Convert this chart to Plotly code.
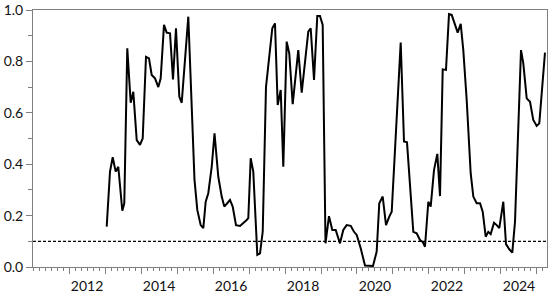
import plotly.graph_objects as go

# Decimal-year positions and values
years = [
    2012.547, 2012.639, 2012.714, 2012.797, 2012.869, 2012.981, 2013.036, 2013.119,
    2013.214, 2013.286, 2013.381, 2013.472, 2013.547, 2013.639, 2013.722, 2013.797,
    2013.889, 2013.981, 2014.047, 2014.139, 2014.214, 2014.306, 2014.389, 2014.472,
    2014.564, 2014.631, 2014.814, 2014.986, 2015.064, 2015.158, 2015.231, 2015.297,
    2015.369, 2015.464, 2015.542, 2015.647, 2015.742, 2015.814, 2015.908, 2015.972,
    2016.047, 2016.139, 2016.250, 2016.342, 2016.436, 2016.481, 2016.547, 2016.619,
    2016.731, 2016.806, 2016.881, 2016.972, 2017.083, 2017.147, 2017.222, 2017.297,
    2017.381, 2017.453, 2017.547, 2017.619, 2017.714, 2017.869, 2017.964, 2018.075,
    2018.147, 2018.214, 2018.306, 2018.397, 2018.472, 2018.547, 2018.625, 2018.722,
    2018.814, 2018.908, 2019.028, 2019.119, 2019.214, 2019.325, 2019.417, 2019.492,
    2019.603, 2019.722, 2019.814, 2019.944, 2020.047, 2020.119, 2020.214, 2020.306,
    2020.397, 2020.464, 2020.714, 2020.806, 2020.889, 2021.064, 2021.158, 2021.250,
    2021.325, 2021.389, 2021.481, 2021.547, 2021.639, 2021.731, 2021.806, 2021.881,
    2021.972, 2022.056, 2022.131, 2022.222, 2022.297, 2022.381, 2022.453, 2022.547,
    2022.658, 2022.731, 2022.825, 2022.917, 2022.992, 2023.075, 2023.147, 2023.214,
    2023.306, 2023.381, 2023.453, 2023.564, 2023.639, 2023.731, 2023.814, 2023.889,
    2024.056, 2024.119, 2024.214, 2024.306, 2024.397, 2024.492, 2024.564, 2024.722,
]
values = [
    0.157, 0.371, 0.427, 0.371, 0.390, 0.219, 0.248, 0.851,
    0.639, 0.682, 0.494, 0.475, 0.500, 0.818, 0.812, 0.747,
    0.734, 0.700, 0.734, 0.942, 0.912, 0.909, 0.730, 0.929,
    0.663, 0.639, 0.974, 0.340, 0.222, 0.163, 0.151, 0.254,
    0.287, 0.390, 0.520, 0.351, 0.274, 0.235, 0.250, 0.261,
    0.235, 0.163, 0.160, 0.170, 0.183, 0.190, 0.423, 0.371,
    0.047, 0.053, 0.137, 0.700, 0.844, 0.929, 0.948, 0.630,
    0.689, 0.390, 0.877, 0.831, 0.634, 0.844, 0.678, 0.818,
    0.916, 0.929, 0.728, 0.977, 0.977, 0.942, 0.092, 0.198,
    0.144, 0.144, 0.092, 0.144, 0.163, 0.160, 0.137, 0.125,
    0.073, 0.006, 0.004, 0.004, 0.060, 0.248, 0.274, 0.163,
    0.196, 0.215, 0.873, 0.488, 0.485, 0.137, 0.131, 0.105,
    0.098, 0.079, 0.254, 0.235, 0.377, 0.440, 0.276, 0.769,
    0.767, 0.984, 0.981, 0.942, 0.912, 0.946, 0.844, 0.650,
    0.365, 0.274, 0.248, 0.248, 0.215, 0.118, 0.137, 0.128,
    0.172, 0.163, 0.151, 0.254, 0.089, 0.069, 0.056, 0.176,
    0.844, 0.793, 0.656, 0.643, 0.572, 0.549, 0.559, 0.834,
]
threshold = 0.1
year_labels = [2012, 2014, 2016, 2018, 2020, 2022, 2024]
year_marks = [2011.5 + i for i in range(14)]
x_range = [2010.5, 2024.778]
y_ticks = [0.0, 0.2, 0.4, 0.6, 0.8, 1.0]

FONT = "Lato, 'Open Sans', sans-serif"
AXIS_COLOR = "#808080"

fig = go.Figure()
fig.add_trace(go.Scatter(
    x=years, y=values, mode="lines",
    line=dict(color="black", width=2),
    showlegend=False, hoverinfo="skip",
))
# invisible trace on the labelling axis
fig.add_trace(go.Scatter(
    x=[x_range[0]], y=[0], mode="markers", marker=dict(opacity=0),
    xaxis="x2", showlegend=False, hoverinfo="skip",
))
fig.add_hline(y=threshold, line=dict(color="black", width=1.3, dash="3px,2px"))

fig.update_layout(
    width=550, height=294,
    margin=dict(l=33, r=3, t=10, b=27),
    paper_bgcolor="white", plot_bgcolor="white",
    font=dict(family=FONT, size=14, color="#111"),
    hovermode=False,
    xaxis=dict(
        range=x_range, showgrid=False, zeroline=False, automargin=False,
        showline=True, linecolor=AXIS_COLOR, linewidth=1, mirror=True,
        tickmode="array", tickvals=year_marks, showticklabels=False,
        ticks="outside", ticklen=6, tickcolor=AXIS_COLOR, tickwidth=1,
        minor=dict(tickmode="linear", tick0=2010.5, dtick=1/6,
                   ticks="outside", ticklen=3, tickcolor=AXIS_COLOR, tickwidth=1),
    ),
    xaxis2=dict(
        range=x_range, overlaying="x", anchor="y", side="bottom", automargin=False,
        showgrid=False, zeroline=False, showline=False,
        tickmode="array", tickvals=year_labels, ticktext=[str(v) for v in year_labels],
        ticks="outside", ticklen=6, tickcolor="rgba(0,0,0,0)",
        tickfont=dict(family=FONT, size=14, color="#111"),
    ),
    yaxis=dict(
        range=[0, 1], showgrid=False, zeroline=False, automargin=False,
        showline=True, linecolor=AXIS_COLOR, linewidth=1, mirror=True,
        tickmode="array", tickvals=y_ticks, tickformat=".1f",
        ticks="outside", ticklen=6, tickcolor=AXIS_COLOR, tickwidth=1,
        minor=dict(tickmode="linear", tick0=0, dtick=0.1,
                   ticks="outside", ticklen=4, tickcolor=AXIS_COLOR, tickwidth=1),
        tickfont=dict(family=FONT, size=14, color="#111"),
    ),
)

fig.write_html(
    "out.html",
    config={"displayModeBar": False, "staticPlot": True},
    post_script="document.body.style.margin='0';document.body.style.overflow='hidden';",
)
